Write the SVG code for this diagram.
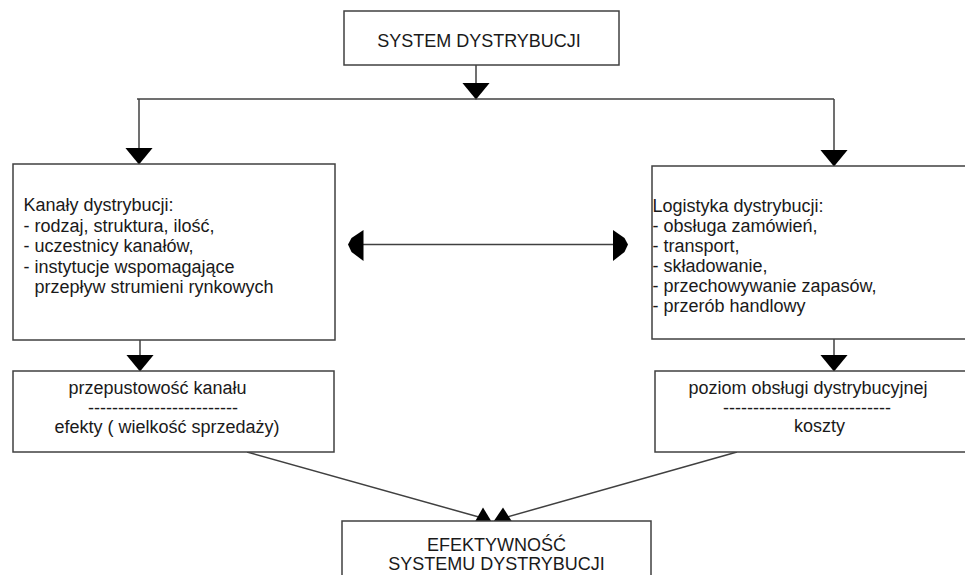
<svg xmlns="http://www.w3.org/2000/svg" width="965" height="575" viewBox="0 0 965 575">
<style>
.box{fill:#fff;stroke:#404040;stroke-width:1.5}
.ln{fill:none;stroke:#404040;stroke-width:1.5}
.hd{fill:#000;stroke:none}
text{font-family:"Liberation Sans",Arial,sans-serif;font-size:18px;fill:#1a1a1a}
.c{text-anchor:middle}
</style>
<defs>
<marker id="arrowDown" markerUnits="userSpaceOnUse" markerWidth="17" markerHeight="28" refX="17" refY="14" orient="auto" viewBox="0 0 17 28">
<path d="M0,0 L17,14 L0,28 Z" fill="#000"/>
</marker>
</defs>
<rect width="965" height="575" fill="#fff"/>
<g id="connectors">
<line class="ln" x1="476" y1="65" x2="476" y2="99.5" marker-end="url(#arrowDown)"/>
<line class="ln" x1="137" y1="99" x2="834" y2="99"/>
<line class="ln" x1="139" y1="99" x2="139" y2="164.5" marker-end="url(#arrowDown)"/>
<line class="ln" x1="834" y1="99" x2="834" y2="166.5" marker-end="url(#arrowDown)"/>
<line class="ln" x1="140" y1="340" x2="140" y2="371.5" marker-end="url(#arrowDown)"/>
<line class="ln" x1="834" y1="339" x2="834" y2="371.5" marker-end="url(#arrowDown)"/>
<line class="ln" x1="355" y1="244.5" x2="620" y2="244.5"/>
<polygon class="hd" points="363.5,230 351.5,238 348,244.5 351.5,252 363.5,261"/>
<polygon class="hd" points="613,230 624.5,238 628,244.5 624.5,252 613,261"/>
<line class="ln" x1="247" y1="452" x2="486" y2="519"/>
<line class="ln" x1="737" y1="452" x2="500" y2="519"/>
<polygon class="hd" points="475,521.5 483,507.5 491.5,521.5"/>
<polygon class="hd" points="493.5,521.5 503,507.5 512,521.5"/>
</g>
<g id="system">
<rect class="box" x="344" y="11" width="275" height="54"/>
<text class="c" x="479" y="46.5">SYSTEM DYSTRYBUCJI</text>
</g>
<g id="kanaly">
<rect class="box" x="13" y="164" width="322" height="176"/>
<text x="23.5" y="211">Kanały dystrybucji:</text>
<text x="23.5" y="231.5">- rodzaj, struktura, ilość,</text>
<text x="23.5" y="252">- uczestnicy kanałów,</text>
<text x="23.5" y="272.5">- instytucje wspomagające</text>
<text x="34.5" y="293">przepływ strumieni rynkowych</text>
</g>
<g id="logistyka">
<rect class="box" x="652" y="166" width="330" height="173"/>
<text x="652.5" y="212">Logistyka dystrybucji:</text>
<text x="652.5" y="232">- obsługa zamówień,</text>
<text x="652.5" y="252">- transport,</text>
<text x="652.5" y="272">- składowanie,</text>
<text x="652.5" y="292">- przechowywanie zapasów,</text>
<text x="652.5" y="312">- przerób handlowy</text>
</g>
<g id="przepustowosc">
<rect class="box" x="13" y="371" width="321" height="81"/>
<text class="c" x="157.5" y="394">przepustowość kanału</text>
<text class="c" x="163" y="414">-------------------------</text>
<text class="c" x="167" y="432.5">efekty ( wielkość sprzedaży)</text>
</g>
<g id="poziom">
<rect class="box" x="655" y="371" width="330" height="81"/>
<text class="c" x="808" y="393.5">poziom obsługi dystrybucyjnej</text>
<text class="c" x="807" y="413.5">----------------------------</text>
<text class="c" x="819.5" y="432">koszty</text>
</g>
<g id="efektywnosc">
<rect class="box" x="342" y="521" width="309" height="80"/>
<text class="c" x="496.5" y="551">EFEKTYWNOŚĆ</text>
<text class="c" x="496.5" y="570">SYSTEMU DYSTRYBUCJI</text>
</g>
</svg>
